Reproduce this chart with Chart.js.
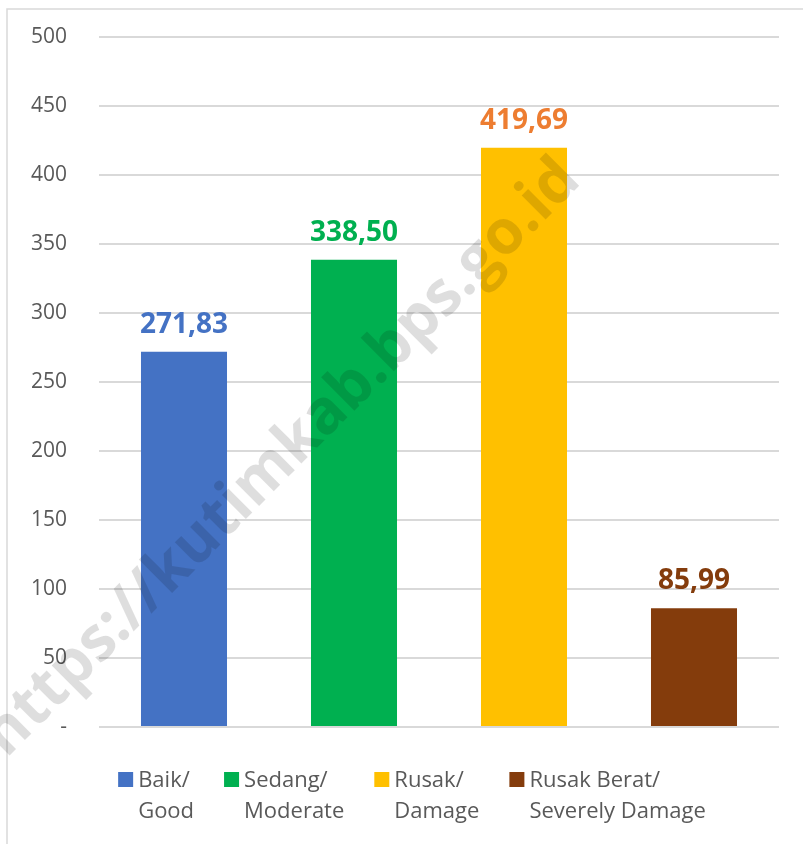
<!DOCTYPE html>
<html lang="id">
<head>
  <meta charset="UTF-8" />
  <title>Kondisi Jalan</title>
  <script src="https://cdn.jsdelivr.net/npm/chart.js"></script>
  <style>
    html, body { margin: 0; padding: 0; background: #fff; }
    #wrap { width: 803px; height: 844px; position: relative; }
  </style>
</head>
<body>
  <div id="wrap"><canvas id="roadChart" width="803" height="844"></canvas></div>

  <script>
    // data
    const categories = [['Baik/', 'Good'], ['Sedang/', 'Moderate'], ['Rusak/', 'Damage'], ['Rusak Berat/', 'Severely Damage']];
    const roadLength = [271.83, 338.50, 419.69, 85.99];
    const barColors = ['#4472C4', '#00B050', '#FFC000', '#843C0C'];
    const labelColors = ['#4472C4', '#00B050', '#ED7D31', '#843C0C'];
    const yTickLabels = ['-', '50', '100', '150', '200', '250', '300', '350', '400', '450', '500'];
    const watermark = 'https://kutimkab.bps.go.id';

    const FONT = '"Open Sans", "Noto Sans", sans-serif';
    const TEXT_GREY = '#595959';

    // outer frame of the chart object
    const framePlugin = {
      id: 'frame',
      beforeDraw(chart) {
        const ctx = chart.ctx;
        ctx.save();
        ctx.fillStyle = '#fff';
        ctx.fillRect(0, 0, chart.width, chart.height);
        ctx.strokeStyle = '#d9d9d9';
        ctx.lineWidth = 1.5;
        ctx.strokeRect(7, 9, chart.width + 20, chart.height + 20);
        ctx.restore();
      }
    };

    // value labels above the bars, comma decimals
    const valueLabels = {
      id: 'valueLabels',
      afterDatasetsDraw(chart) {
        const ctx = chart.ctx;
        const meta = chart.getDatasetMeta(0);
        ctx.save();
        ctx.font = 'bold 28px ' + FONT;
        ctx.textAlign = 'center';
        ctx.textBaseline = 'alphabetic';
        meta.data.forEach((bar, i) => {
          ctx.fillStyle = labelColors[i];
          ctx.fillText(roadLength[i].toFixed(2).replace('.', ','), bar.x, bar.y - 19);
        });
        ctx.restore();
      }
    };

    // two-line legend under the plot
    const bottomLegend = {
      id: 'bottomLegend',
      afterDraw(chart) {
        const ctx = chart.ctx;
        ctx.save();
        ctx.font = '22px ' + FONT;
        const box = 15, textGap = 5, itemGap = 30;
        const widths = categories.map(lines => box + textGap + Math.max(...lines.map(l => ctx.measureText(l).width)));
        const total = widths.reduce((a, b) => a + b, 0) + itemGap * (widths.length - 1);
        let x = 412 - total / 2;
        const base = chart.chartArea.bottom + 60;
        categories.forEach((lines, i) => {
          ctx.fillStyle = barColors[i];
          ctx.fillRect(x, base - box, box, box);
          ctx.fillStyle = TEXT_GREY;
          ctx.textAlign = 'left';
          ctx.textBaseline = 'alphabetic';
          lines.forEach((l, j) => ctx.fillText(l, x + box + textGap, base + j * 31));
          x += widths[i] + itemGap;
        });
        ctx.restore();
      }
    };

    // diagonal watermark across the chart
    const watermarkPlugin = {
      id: 'watermark',
      afterDraw(chart) {
        const ctx = chart.ctx;
        ctx.save();
        ctx.font = 'bold 62px ' + FONT;
        const squeeze = 815 / ctx.measureText(watermark).width;
        ctx.translate(282, 458);
        ctx.rotate(-45 * Math.PI / 180);
        ctx.scale(squeeze, 1);
        ctx.fillStyle = 'rgba(0,0,0,0.13)';
        ctx.textAlign = 'center';
        ctx.textBaseline = 'middle';
        ctx.fillText(watermark, 0, 0);
        ctx.restore();
      }
    };

    const ctx = document.getElementById('roadChart').getContext('2d');
    const roadChart = new Chart(ctx, {
      type: 'bar',
      data: {
        labels: categories,
        datasets: [{
          data: roadLength,
          backgroundColor: barColors,
          borderWidth: 0,
          barPercentage: 0.506,
          categoryPercentage: 1
        }]
      },
      options: {
        responsive: false,
        animation: false,
        layout: { padding: { top: 37, right: 24, bottom: 117, left: 0 } },
        plugins: {
          legend: { display: false },
          tooltip: { enabled: false }
        },
        scales: {
          x: { display: false },
          y: {
            min: 0,
            max: 500,
            afterFit(scale) {
              scale.width = 99;
              // tick padding would otherwise push the plot top down
              scale.paddingTop = 12;
              scale.paddingBottom = 12;
            },
            ticks: {
              stepSize: 50,
              padding: 32,
              color: TEXT_GREY,
              font: { family: FONT, size: 21 },
              callback: (v, i) => yTickLabels[i]
            },
            grid: { color: '#d9d9d9', lineWidth: 2, drawTicks: false },
            border: { display: false }
          }
        }
      },
      plugins: [framePlugin, valueLabels, bottomLegend, watermarkPlugin]
    });
  </script>
</body>
</html>
